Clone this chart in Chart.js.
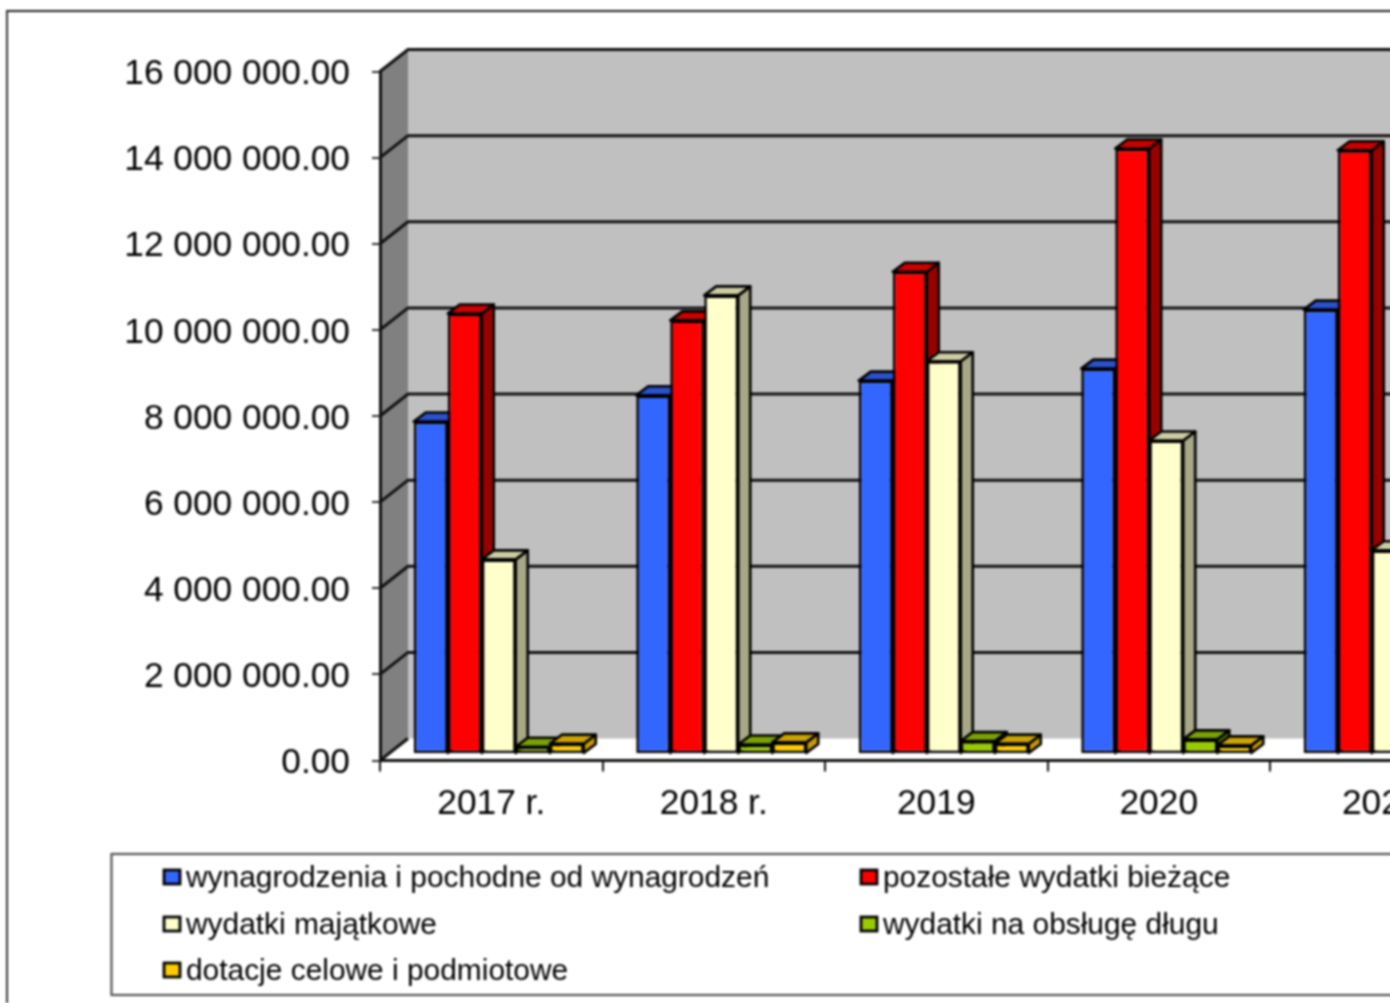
<!DOCTYPE html>
<html>
<head>
<meta charset="utf-8">
<title>Wydatki</title>
<script src="https://cdn.jsdelivr.net/npm/chart.js@4"></script>
<style>
html, body { margin: 0; padding: 0; background: #fff; overflow: hidden; }
#wrap { position: relative; width: 1390px; height: 1003px; overflow: hidden; }
#myChart { position: absolute; left: 0; top: 0; filter: blur(0.9px); }
</style>
</head>
<body>
<div id="wrap"><canvas id="myChart" width="1500" height="1003"></canvas></div>
<script>
'use strict';
var categories = ['2017 r.', '2018 r.', '2019', '2020', '2021'];
var yTickLabels = ['0.00', '2 000 000.00', '4 000 000.00', '6 000 000.00', '8 000 000.00',
    '10 000 000.00', '12 000 000.00', '14 000 000.00', '16 000 000.00'];

var wynagrodzenia = [7720000, 8330000, 8670000, 8950000, 10320000];
var pozostale = [10230000, 10070000, 11200000, 14060000, 14020000];
var majatkowe = [4520000, 10650000, 9120000, 7280000, 4730000];
var obslugaDlugu = [170000, 220000, 300000, 340000, 320000];
var dotacje = [240000, 270000, 240000, 200000, 220000];

var seriesNames = ['wynagrodzenia i pochodne od wynagrodzeń', 'pozostałe wydatki bieżące',
    'wydatki majątkowe', 'wydatki na obsługę długu', 'dotacje celowe i podmiotowe'];
var frontColors = ['#3366ff', '#ff0000', '#ffffcc', '#99cc00', '#ffcc00'];
var topColors = ['#2a52cc', '#cc0000', '#cccca3', '#7aa300', '#cca300'];
var sideColors = ['#1f3d99', '#990000', '#a8a888', '#5c7a00', '#c89a00'];

var WALL_DX = 28, WALL_DY = -22;   // depth of the back wall
var BAR_DX = 7.5, BAR_DY = -6.5;   // bars stand in the middle of the floor
var DEPTH_X = 12, DEPTH_Y = -9;    // depth of one bar
var LINE = '#111';

function poly(ctx, pts, fill, stroke, width) {
    ctx.beginPath();
    ctx.moveTo(pts[0][0], pts[0][1]);
    for (var i = 1; i < pts.length; i++) {
        ctx.lineTo(pts[i][0], pts[i][1]);
    }
    ctx.closePath();
    if (fill) {
        ctx.fillStyle = fill;
        ctx.fill();
    }
    if (stroke) {
        ctx.strokeStyle = stroke;
        ctx.lineWidth = width;
        ctx.lineJoin = 'round';
        ctx.stroke();
    }
}

// tick labels sit a little lower than the library puts them
function shiftLabels(scale, dy) {
    if (scale.labelsShifted) {
        return;
    }
    scale.labelsShifted = true;
    var draw = scale.drawLabels;
    scale.drawLabels = function (area) {
        this.ctx.save();
        this.ctx.translate(0, dy);
        draw.call(this, area);
        this.ctx.restore();
    };
}

var wallsPlugin = {
    id: 'walls',
    beforeDraw: function (chart) {
        var ctx = chart.ctx, area = chart.chartArea, y = chart.scales.y;
        var l = area.left, r = chart.width, t = area.top, b = area.bottom;
        ctx.save();
        poly(ctx, [[l + WALL_DX, t + WALL_DY], [r, t + WALL_DY], [r, b + WALL_DY], [l + WALL_DX, b + WALL_DY]], '#c0c0c0');
        poly(ctx, [[l, t], [l + WALL_DX, t + WALL_DY], [l + WALL_DX, b + WALL_DY], [l, b]], '#808080');
        ctx.strokeStyle = LINE;
        ctx.lineWidth = 3;
        yTickLabels.forEach(function (lab, i) {
            var py = y.getPixelForTick(i);
            ctx.beginPath();
            ctx.moveTo(l, py);
            ctx.lineTo(l + WALL_DX, py + WALL_DY);
            if (i > 0) {
                ctx.lineTo(r, py + WALL_DY);
            }
            ctx.stroke();
        });
        ctx.restore();
    },
    // sides and tops go under all the fronts, left to right; the library draws the fronts
    beforeDatasetsDraw: function (chart) {
        var ctx = chart.ctx;
        ctx.save();
        ctx.translate(BAR_DX, BAR_DY);
        chart.data.datasets.forEach(function (ds, i) {
            chart.getDatasetMeta(i).data.forEach(function (bar) {
                var p = bar.getProps(['x', 'y', 'base', 'width'], true);
                var x0 = p.x - p.width / 2, x1 = p.x + p.width / 2;
                poly(ctx, [[x1, p.y], [x1 + DEPTH_X, p.y + DEPTH_Y], [x1 + DEPTH_X, p.base + DEPTH_Y], [x1, p.base]],
                    sideColors[i], '#000', 2.6);
                poly(ctx, [[x0, p.y], [x0 + DEPTH_X, p.y + DEPTH_Y], [x1 + DEPTH_X, p.y + DEPTH_Y], [x1, p.y]],
                    topColors[i], '#000', 2.6);
            });
        });
    },
    afterDatasetsDraw: function (chart) {
        chart.ctx.restore();
    }
};

var legendBoxPlugin = {
    id: 'legendBox',
    afterDraw: function (chart) {
        var ctx = chart.ctx;
        var cols = [164, 861], rows = [877, 924, 970];
        ctx.save();
        // frame of the whole picture
        ctx.strokeStyle = '#222';
        ctx.lineWidth = 1.8;
        ctx.beginPath();
        ctx.moveTo(7, 1003);
        ctx.lineTo(7, 11);
        ctx.lineTo(1500, 11);
        ctx.stroke();
        // legend frame
        ctx.strokeStyle = '#555';
        ctx.lineWidth = 2.2;
        ctx.strokeRect(111.5, 854, 1500, 141);
        ctx.font = '29.9px "Liberation Sans"';
        ctx.textBaseline = 'middle';
        ctx.textAlign = 'left';
        chart.data.datasets.forEach(function (ds, i) {
            var cx = cols[i % 2], cy = rows[Math.floor(i / 2)];
            ctx.fillStyle = ds.backgroundColor;
            ctx.fillRect(cx, cy - 7, 16, 14);
            ctx.strokeStyle = '#000';
            ctx.lineWidth = 2.8;
            ctx.strokeRect(cx, cy - 7, 16, 14);
            ctx.fillStyle = '#000';
            ctx.fillText(ds.label, cx + 22, cy + 2);
        });
        ctx.restore();
    }
};

var seriesValues = [wynagrodzenia, pozostale, majatkowe, obslugaDlugu, dotacje];
var ctx = document.getElementById('myChart');
var myChart = new Chart(ctx, {
    type: 'bar',
    data: {
        labels: categories,
        datasets: seriesValues.map(function (vals, i) {
            return {
                label: seriesNames[i],
                data: vals,
                backgroundColor: frontColors[i],
                borderColor: '#000',
                borderWidth: 2.6,
                borderSkipped: false,
                categoryPercentage: 0.764,
                barPercentage: 1,
                clip: false
            };
        })
    },
    options: {
        responsive: false,
        animation: false,
        devicePixelRatio: 1,
        layout: {padding: {left: 80, top: 71.5, right: 7.5, bottom: 142.5}},
        plugins: {legend: {display: false}, tooltip: {enabled: false}, title: {display: false}},
        scales: {
            x: {
                afterFit: function (s) {
                    s.height = 100;
                    s.paddingLeft = 0;
                    s.paddingRight = 0;
                },
                border: {color: LINE, width: 3},
                grid: {offset: true, drawOnChartArea: false, color: LINE, lineWidth: 2, tickLength: 11},
                ticks: {color: '#000', font: {family: 'Liberation Sans', size: 35.3}, padding: 12, maxRotation: 0}
            },
            y: {
                min: 0,
                max: 16000000,
                afterFit: function (s) {
                    s.width = 300;
                    s.paddingTop = 0;
                    s.paddingBottom = 0;
                    shiftLabels(s, 3);
                },
                border: {color: LINE, width: 3},
                grid: {drawOnChartArea: false, color: '#333', lineWidth: 2, tickLength: 8},
                ticks: {
                    stepSize: 2000000,
                    color: '#000',
                    font: {family: 'Liberation Sans', size: 35.3},
                    padding: 22,
                    callback: function (v, i) { return yTickLabels[i]; }
                }
            }
        }
    },
    plugins: [wallsPlugin, legendBoxPlugin]
});
</script>
</body>
</html>
